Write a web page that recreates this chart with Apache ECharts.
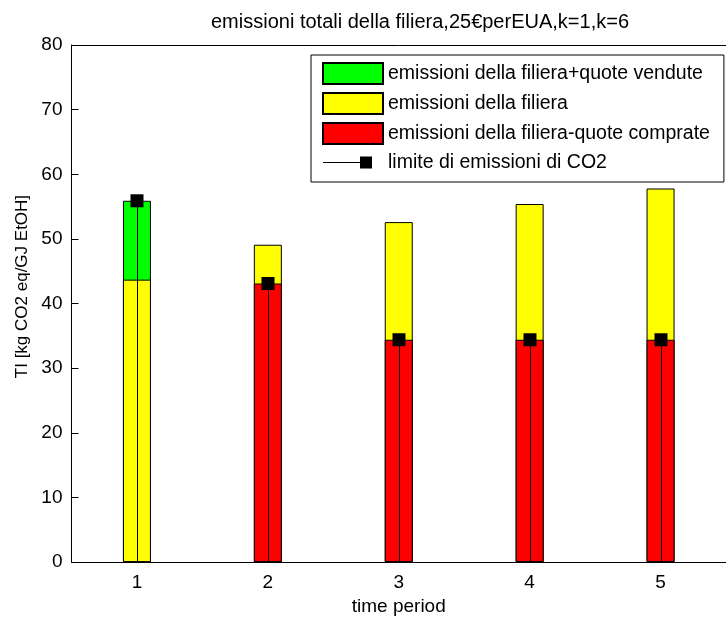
<!DOCTYPE html>
<html>
<head>
<meta charset="utf-8">
<title>emissioni totali della filiera</title>
<script src="https://cdn.jsdelivr.net/npm/echarts@6/dist/echarts.min.js"></script>
<style>
  html, body { margin: 0; padding: 0; background: #fff; }
  #chart { width: 726px; height: 621px; }
</style>
</head>
<body>
<div id="chart"></div>
<script>
// Periods on the x axis
const periods = ['1', '2', '3', '4', '5'];
// Supply-chain emissions plus sold allowances (only where the cap exceeds emissions)
const emissioniPiuVendute = [55.9, '-', '-', '-', '-'];
// Supply-chain emissions
const emissioniFiliera = [43.7, 49.1, 52.6, 55.4, 57.8];
// Supply-chain emissions minus bought allowances (only where emissions exceed the cap)
const emissioniMenoComprate = ['-', 43.1, 34.4, 34.4, 34.4];
// CO2 emission cap per period
const limiteCO2 = [55.9, 43.1, 34.4, 34.4, 34.4];
// Y axis ticks
const yTicks = [0, 10, 20, 30, 40, 50, 60, 70, 80];

const FONT = '"Liberation Sans", Arial, Helvetica, sans-serif';
const chart = echarts.init(document.getElementById('chart'), null, { renderer: 'canvas' });

const barCommon = {
  type: 'bar',
  barWidth: 28,
  barGap: '-100%',
  emphasis: { disabled: true },
  xAxisIndex: 0,
  yAxisIndex: 0
};

// stem from the axis to the cap, ended by a square marker
function renderLimit(params, api) {
  const base = api.coord([api.value(0), 0]);
  const top = api.coord([api.value(0), api.value(1)]);
  const x = Math.round(base[0]) + 0.5;
  return {
    type: 'group',
    children: [
      { type: 'line', shape: { x1: x, y1: base[1], x2: x, y2: top[1] },
        style: { stroke: '#000', lineWidth: 1 } },
      { type: 'rect', shape: { x: x - 7, y: top[1] - 6.5, width: 13, height: 13 },
        style: { fill: '#000' } }
    ]
  };
}

const option = {
  animation: false,
  backgroundColor: '#fff',
  textStyle: { fontFamily: FONT, color: '#000' },
  title: {
    text: 'emissioni totali della filiera,25€perEUA,k=1,k=6',
    left: 420,
    top: 12,
    padding: 0,
    textAlign: 'center',
    textStyle: { fontFamily: FONT, fontSize: 20, fontWeight: 'normal', color: '#000' }
  },
  legend: {
    orient: 'vertical',
    left: 311,
    top: 55,
    padding: [7, 14, 9, 11],
    itemWidth: 60,
    itemHeight: 21,
    itemGap: 7,
    backgroundColor: '#fff',
    borderColor: '#000',
    borderWidth: 1,
    borderRadius: 0,
    selectedMode: false,
    textStyle: { fontFamily: FONT, fontSize: 19.5, color: '#000' },
    data: [
      { name: 'emissioni della filiera+quote vendute', icon: 'rect' },
      { name: 'emissioni della filiera', icon: 'rect' },
      { name: 'emissioni della filiera-quote comprate', icon: 'rect' },
      { name: 'limite di emissioni di CO2',
        icon: 'path://M0,0 L0,0 Z M60,21 L60,21 Z M0,10 L38,10 L38,11 L0,11 Z M37,4.5 L49,4.5 L49,16.5 L37,16.5 Z',
        itemStyle: { color: '#000', borderWidth: 0 } }
    ]
  },
  grid: { left: 71.5, top: 45, width: 662.5, height: 523, containLabel: false },
  xAxis: [
    {
      type: 'category',
      data: periods,
      position: 'bottom',
      boundaryGap: true,
      name: 'time period',
      nameLocation: 'middle',
      nameGap: 32,
      nameTextStyle: { fontFamily: FONT, fontSize: 19, color: '#000' },
      axisLine: { lineStyle: { color: '#000', width: 1 } },
      axisTick: { inside: true, length: 6, alignWithLabel: true, lineStyle: { color: '#000' } },
      axisLabel: { fontFamily: FONT, fontSize: 19, color: '#000', margin: 11 },
      splitLine: { show: false }
    },
    {
      type: 'category',
      data: periods,
      position: 'top',
      boundaryGap: true,
      axisLine: { lineStyle: { color: '#000', width: 1 } },
      axisTick: { inside: true, length: 6, alignWithLabel: true, lineStyle: { color: '#000' } },
      axisLabel: { show: false },
      splitLine: { show: false }
    }
  ],
  yAxis: {
    type: 'value',
    min: yTicks[0],
    max: yTicks[yTicks.length - 1],
    interval: yTicks[1] - yTicks[0],
    name: 'TI [kg CO2 eq/GJ EtOH]',
    nameLocation: 'middle',
    nameGap: 36,
    nameTextStyle: { fontFamily: FONT, fontSize: 17, color: '#000', padding: [0, 0, 0, 34] },
    axisLine: { show: true, lineStyle: { color: '#000', width: 1 } },
    axisTick: { show: true, inside: true, length: 7, lineStyle: { color: '#000' } },
    axisLabel: { fontFamily: FONT, fontSize: 19, color: '#000', margin: 9 },
    splitLine: { show: false }
  },
  series: [
    Object.assign({}, barCommon, {
      name: 'emissioni della filiera+quote vendute',
      data: emissioniPiuVendute,
      itemStyle: { color: '#00ff00', borderColor: '#000', borderWidth: 1 }
    }),
    Object.assign({}, barCommon, {
      name: 'emissioni della filiera',
      data: emissioniFiliera,
      itemStyle: { color: '#ffff00', borderColor: '#000', borderWidth: 1 }
    }),
    Object.assign({}, barCommon, {
      name: 'emissioni della filiera-quote comprate',
      data: emissioniMenoComprate,
      itemStyle: { color: '#ff0000', borderColor: '#000', borderWidth: 1 }
    }),
    {
      type: 'custom',
      name: 'limite di emissioni di CO2',
      xAxisIndex: 0,
      yAxisIndex: 0,
      itemStyle: { color: '#000' },
      renderItem: renderLimit,
      data: limiteCO2.map((v, i) => [i, v]),
      encode: { x: 0, y: 1 },
      z: 5
    }
  ]
};

chart.setOption(option);
</script>
</body>
</html>
